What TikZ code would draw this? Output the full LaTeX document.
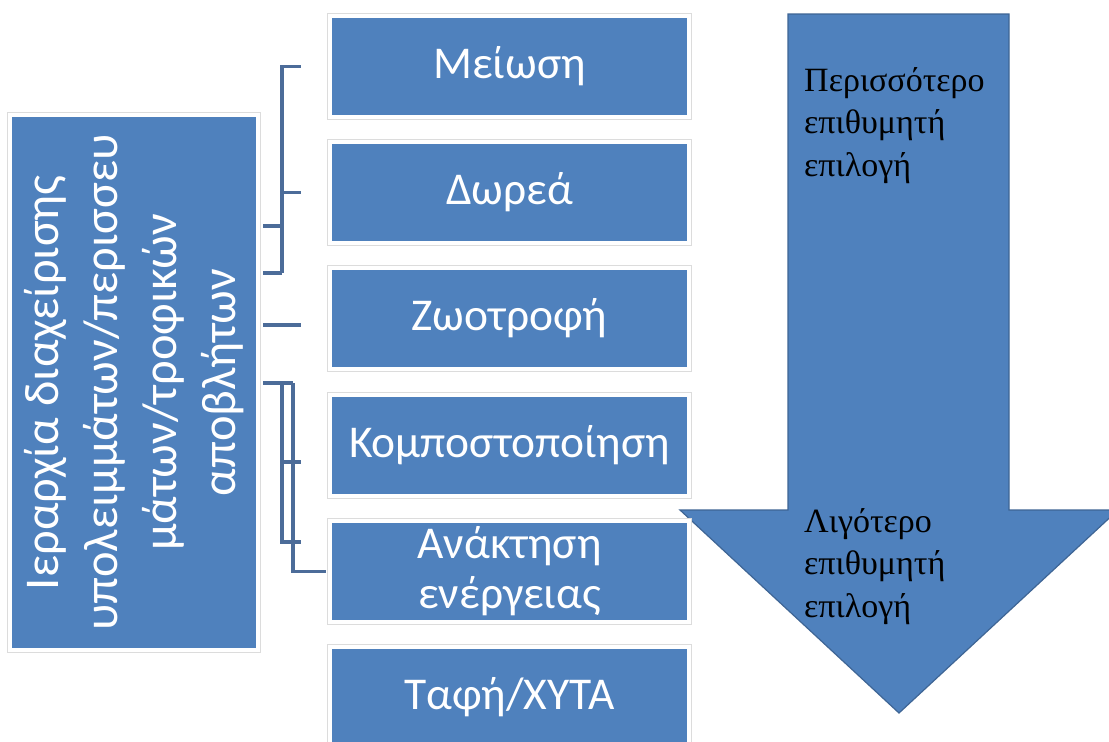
\documentclass[tikz,border=0pt]{standalone}
\usepackage{fontspec}
\setmainfont{Carlito}
\newfontfamily\boxfont{Carlito}
\newfontfamily\notefont{Liberation Serif}
\definecolor{boxblue}{HTML}{4F81BD}
\definecolor{edgeblue}{HTML}{3E6595}
\definecolor{linkblue}{HTML}{4C6C99}
\definecolor{framegray}{HTML}{DCDCDC}
\tikzset{
  stepbox/.style={rectangle, inner sep=0pt, fill=boxblue, draw=white, line width=4pt,
    preaction={draw=framegray, line width=6.5pt},
    minimum width=359pt, minimum height=101pt,
    text=white, font=\boxfont\fontsize{45.5}{50}\selectfont, align=center},
  hierbox/.style={rectangle, inner sep=0pt, fill=boxblue, draw=white, line width=4pt,
    preaction={draw=framegray, line width=6.5pt},
    minimum width=535pt, minimum height=248pt, rotate=90,
    text=white, font=\boxfont\fontsize{48.5}{59}\selectfont, align=center},
  link/.style={draw=linkblue, line width=3.2pt},
  bigarrow/.style={fill=boxblue, draw=edgeblue, line width=1.2pt, line join=miter},
  note/.style={anchor=north west, inner sep=0pt, align=left, text=black,
    font=\notefont\fontsize{34}{42.5}\selectfont}
}
\begin{document}
\begin{tikzpicture}[x=1pt,y=-1pt]
  \useasboundingbox (0,0) rectangle (1109,742);
  \fill[white] (0,0) rectangle (1109,742);

  % descending arrow of preference
  \draw[bigarrow] (788,14) -- (1009,14) -- (1009,510) -- (1118,510)
    -- (899,713) -- (680,510) -- (788,510) -- cycle;
  \node[note] (more) at (804,67) {Περισσότερο\\επιθυμητή\\επιλογή};
  \node[note] (less) at (804,508) {Λιγότερο\\επιθυμητή\\επιλογή};

  % hierarchy box on the left
  \node[hierbox] (hier) at (134,382.5)
    {Ιεραρχία διαχείρισης\\υπολειμμάτων/περισσευ\\μάτων/τροφικών\\αποβλήτων};

  % the six options
  \node[stepbox] (b1) at (509.5,66.5) {Μείωση};
  \node[stepbox] (b2) at (509.5,192.5) {Δωρεά};
  \node[stepbox] (b3) at (509.5,318.5) {Ζωοτροφή};
  \node[stepbox] (b4) at (509.5,445.5) {Κομποστοποίηση};
  \node[stepbox] (b5) at (509.5,571.5) {Ανάκτηση\\ενέργειας};
  \node[stepbox] (b6) at (509.5,697.5) {Ταφή/ΧΥΤΑ};

  % bracket joints
  \coordinate (ja) at (282,226);
  \coordinate (jb) at (282,273);
  \coordinate (jc) at (282,383);
  \coordinate (jd) at (293,383);
  \coordinate (je) at (282,542);

  % first bracket: Μείωση and Δωρεά
  \draw[link] ([xshift=3pt]hier.south |- ja) -- (ja);
  \draw[link] ([xshift=3pt]hier.south |- jb) -- (jb);
  \draw[link] (jb) -- (ja |- b1.west) -- ([xshift=-27pt]b1.west);
  \draw[link] (ja |- b2.west) -- ([xshift=-27pt]b2.west);

  % single stub towards Ζωοτροφή
  \draw[link] ([xshift=3pt]hier.south |- 0,325) -- ([xshift=-27pt]b3.west |- 0,325);

  % second bracket: Κομποστοποίηση and Ανάκτηση ενέργειας
  \draw[link] ([xshift=3pt]hier.south |- jc) -- (jd);
  \draw[link] (jc) -- (je) -- ([xshift=-27pt]b5.west |- je);
  \draw[link] (jc |- 0,462) -- ([xshift=-27pt]b4.west |- 0,462);
  \draw[link] (jd) -- (jd |- b5.west) -- ([xshift=-2pt]b5.west);
\end{tikzpicture}
\end{document}
